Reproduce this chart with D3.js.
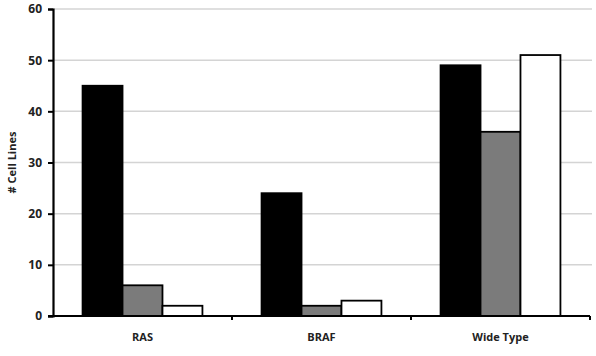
<!DOCTYPE html>
<html>
<head>
<meta charset="utf-8">
<script src="https://cdn.jsdelivr.net/npm/d3@7"></script>
<style>
  body { margin: 0; background: #fff; }
  text { font-family: "Open Sans", "DejaVu Sans", sans-serif; font-weight: 700; fill: #222; }
</style>
</head>
<body>
<div id="chart"></div>
<script>
// Categories and the three series
var categories = ["RAS", "BRAF", "Wide Type"];
var seriesNames = ["black", "gray", "white"];
var blackValues = [45, 24, 49];
var grayValues = [6, 2, 36];
var whiteValues = [2, 3, 51];
var yTicks = [0, 10, 20, 30, 40, 50, 60];

var width = 596, height = 356;
var margin = { top: 9, right: 6, bottom: 40, left: 53 };

var svg = d3.select("#chart")
    .append("svg")
    .attr("width", width)
    .attr("height", height);

var x0 = d3.scaleBand()
    .domain(categories)
    .range([margin.left, width - margin.right])
    .paddingInner(0)
    .paddingOuter(0);

var x1 = d3.scaleBand()
    .domain(seriesNames)
    .range([0, x0.bandwidth()])
    .paddingInner(0)
    .paddingOuter(0.74);

var y = d3.scaleLinear()
    .domain([0, 60])
    .range([height - margin.bottom, margin.top]);

var color = d3.scaleOrdinal()
    .domain(seriesNames)
    .range(["#000000", "#7b7b7b", "#ffffff"]);

// gridlines
svg.append("g")
    .selectAll("line")
    .data(yTicks.filter(d => d > 0))
    .enter()
    .append("line")
    .attr("x1", margin.left)
    .attr("x2", width - margin.right + 2)
    .attr("y1", d => y(d))
    .attr("y2", d => y(d))
    .attr("stroke", "#d4d4d4")
    .attr("stroke-width", 1.5);

// bars
var rows = categories.map((c, i) => ({
    cat: c,
    vals: [
        { key: "black", value: blackValues[i] },
        { key: "gray", value: grayValues[i] },
        { key: "white", value: whiteValues[i] }
    ]
}));

svg.append("g")
    .selectAll("g")
    .data(rows)
    .enter()
    .append("g")
    .attr("transform", d => "translate(" + x0(d.cat) + ",0)")
    .selectAll("rect")
    .data(d => d.vals)
    .enter()
    .append("rect")
    .attr("x", d => x1(d.key))
    .attr("width", x1.bandwidth())
    .attr("y", d => y(d.value))
    .attr("height", d => y(0) - y(d.value))
    .attr("fill", d => color(d.key))
    .attr("stroke", "#000")
    .attr("stroke-width", 1.8);

// y axis
var yAxis = svg.append("g")
    .attr("transform", "translate(" + margin.left + ",0)")
    .call(d3.axisLeft(y).tickValues(yTicks).tickSize(5).tickPadding(6));
yAxis.select(".domain").attr("stroke", "#000").attr("stroke-width", 2.2);
yAxis.selectAll(".tick line").attr("stroke", "#000").attr("stroke-width", 2);
yAxis.selectAll(".tick text").style("font-size", "12px").attr("fill", "#333");

// x axis
var xAxis = svg.append("g")
    .attr("transform", "translate(0," + y(0) + ")");
xAxis.append("line")
    .attr("x1", margin.left - 5)
    .attr("x2", width - margin.right)
    .attr("stroke", "#000")
    .attr("stroke-width", 2.2);
xAxis.selectAll(".sep")
    .data(categories)
    .enter()
    .append("line")
    .attr("class", "sep")
    .attr("x1", d => x0(d) + x0.bandwidth())
    .attr("x2", d => x0(d) + x0.bandwidth())
    .attr("y1", 0)
    .attr("y2", 4)
    .attr("stroke", "#000")
    .attr("stroke-width", 2);
xAxis.selectAll(".lbl")
    .data(categories)
    .enter()
    .append("text")
    .attr("class", "lbl")
    .attr("x", d => x0(d) + x0.bandwidth() / 2)
    .attr("y", 25)
    .attr("text-anchor", "middle")
    .style("font-size", "11px")
    .text(d => d);

// y axis title
svg.append("text")
    .attr("transform", "translate(16," + ((margin.top + y(0)) / 2) + ") rotate(-90)")
    .attr("text-anchor", "middle")
    .style("font-size", "11px")
    .text("# Cell Lines");
</script>
</body>
</html>
